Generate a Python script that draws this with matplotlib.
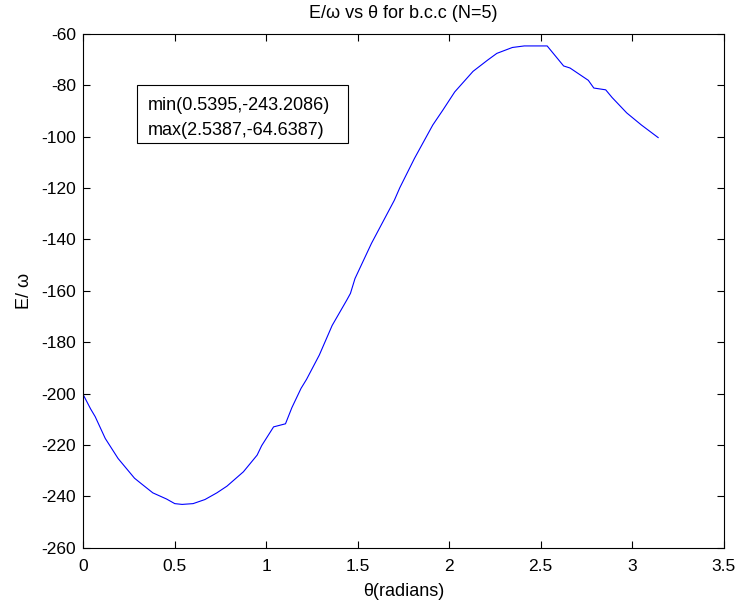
import matplotlib
matplotlib.use("Agg")
import matplotlib.pyplot as plt
from matplotlib.patches import Rectangle

theta = [0, 0.04, 0.065, 0.12, 0.19, 0.28, 0.32, 0.38, 0.455, 0.50, 0.54, 0.60,
         0.665, 0.73, 0.785, 0.875, 0.95, 0.975, 1.04, 1.105, 1.14, 1.19, 1.22,
         1.29, 1.36, 1.44, 1.46, 1.485, 1.575, 1.70, 1.73, 1.81, 1.91, 1.965,
         2.03, 2.13, 2.21, 2.26, 2.345, 2.41, 2.535, 2.625, 2.66, 2.76, 2.79,
         2.855, 2.89, 2.97, 3.05, 3.1416]
energy = [-200.5, -206, -209, -217.5, -225.3, -233, -235.3, -238.7, -241.1,
          -242.9, -243.2, -242.9, -241.3, -238.7, -236.1, -230.5, -224, -220.3,
          -213, -211.8, -205.5, -198, -194.5, -185, -173.5, -163.6, -161,
          -155.2, -141.5, -124.7, -119.8, -108.4, -95.4, -89.6, -82.5, -74.5,
          -70.1, -67.5, -65.2, -64.6, -64.6, -72.4, -73.2, -78, -81, -81.7,
          -84.7, -90.7, -95.4, -100.3]
xticks = [0, 0.5, 1, 1.5, 2, 2.5, 3, 3.5]
xticklabels = ["0", "0.5", "1", "1.5", "2", "2.5", "3", "3.5"]
yticks = [-260, -240, -220, -200, -180, -160, -140, -120, -100, -80, -60]
yticklabels = [str(v) for v in yticks]
info_lines = ["min(0.5395,-243.2086)", "max(2.5387,-64.6387)"]

plt.rcParams['font.family'] = ['Liberation Sans', 'DejaVu Sans']
plt.rcParams['font.size'] = 12

fig = plt.figure(figsize=(7.37, 6.04), dpi=100)
ax = fig.add_axes([0.113, 0.0935, 0.869, 0.850])
ax.plot(theta, energy, color=(0, 0, 1), lw=0.8)
ax.set_xlim(0, 3.5)
ax.set_ylim(-260, -60)
ax.set_xticks(xticks)
ax.set_xticklabels(xticklabels)
ax.set_yticks(yticks)
ax.set_yticklabels(yticklabels)
ax.tick_params(direction='in', top=True, right=True, length=5, width=0.8,
               labelsize=12.5)
ax.tick_params(axis='y', pad=5)
ax.tick_params(axis='x', pad=8)
for s in ax.spines.values():
    s.set_linewidth(0.8)

ax.set_title("E/\u03c9 vs \u03b8 for b.c.c (N=5)", fontsize=13, pad=11.5)
ax.set_xlabel("\u03b8(radians)", fontsize=13, labelpad=6.5)
ax.set_ylabel("E/ \u03c9", fontsize=13, labelpad=6)

rect = Rectangle((0.0834, 0.7883), 0.4137 - 0.0834, 0.9007 - 0.7883,
                 transform=ax.transAxes, fill=True, facecolor='white',
                 edgecolor='black', lw=0.8)
ax.add_patch(rect)
ax.text(0.1015, 0.8617, info_lines[0], transform=ax.transAxes, va='center',
        ha='left', fontsize=13)
ax.text(0.1015, 0.813, info_lines[1], transform=ax.transAxes, va='center',
        ha='left', fontsize=13)

fig.savefig("out.png", dpi=100)
